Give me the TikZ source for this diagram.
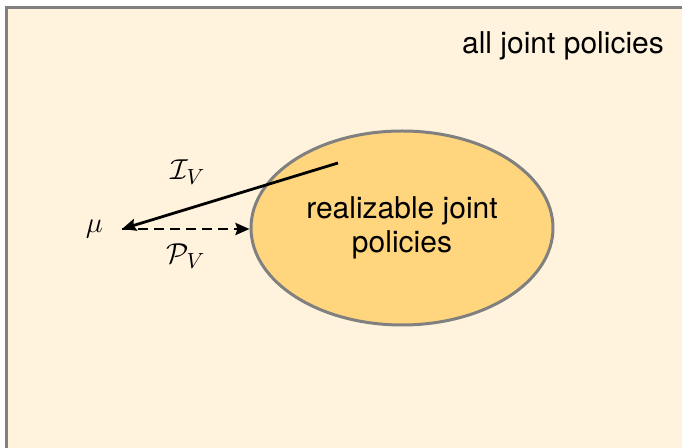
\documentclass[tikz,border=0pt]{standalone}
\usepackage{fontspec}
\setmainfont{TeX Gyre Heros}
\usetikzlibrary{arrows.meta,positioning,shapes.geometric}
\definecolor{cream}{RGB}{255,243,222}
\definecolor{sunny}{RGB}{255,213,125}
\definecolor{rim}{RGB}{128,128,128}

\begin{document}
\begin{tikzpicture}[
    x=0.5pt, y=-0.5pt,
    region/.style={ellipse,draw=rim,line width=1.5pt,fill=sunny,minimum width=151pt,minimum height=97pt,inner sep=0pt,align=center,font=\fontsize{15}{17}\selectfont},
    lbl/.style={font=\fontsize{15}{17}\selectfont},
    map/.style={->,line width=1.4pt},
    >={Stealth[length=7pt,width=6pt,inset=1pt]}
]
\useasboundingbox (0,0) rectangle (682,448);
\clip (0,0) rectangle (682,448);
% outer set
\draw[rim,line width=1.8pt,fill=cream] (6.5,7.5) rectangle (720,480);
\node[font=\fontsize{15}{16}\selectfont] (all) at (563,46) {all joint policies};
% realizable set
\node[region] (real) at (402,228) {\raisebox{-3pt}{}realizable joint\\policies};
\coordinate[label={[lbl,label distance=6pt]left:$\mu$}] (mu) at (122,229);
\coordinate (src) at (338,163);
\draw[map] (src) -- (mu);
\draw[map,dash pattern=on 5pt off 3pt] (mu) -- (real.west |- mu);
\node[lbl] (iv) at (188,172) {$\mathcal{I}_V$};
\node[lbl] (pv) at (186,256) {$\mathcal{P}_V$};
\end{tikzpicture}
\end{document}
